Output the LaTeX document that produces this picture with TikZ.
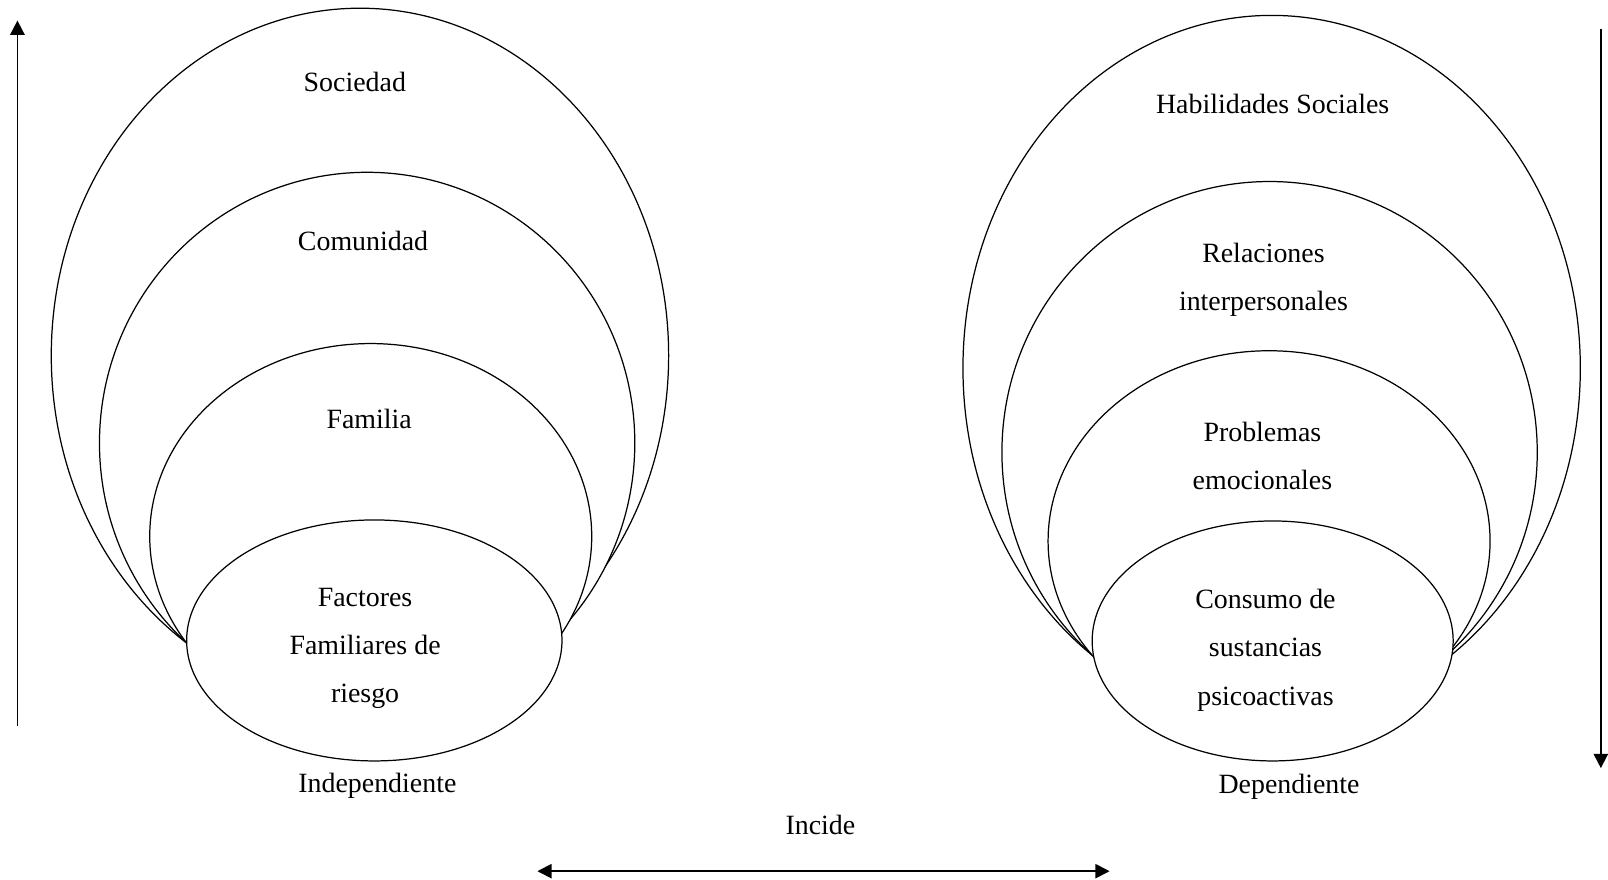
\documentclass[tikz,border=0pt]{standalone}
\usepackage{fontspec}
\setmainfont{Liberation Serif}
\usetikzlibrary{arrows.meta}
\begin{document}
\begin{tikzpicture}[x=0.5pt,y=-0.5pt,
  ring/.style={draw=black, fill=white, line width=0.6pt},
  lbl/.style={font=\fontsize{13.6}{23.5}\selectfont, align=center, inner sep=0pt},
  tipstyle/.style={line width=0.9pt},
  ]
\useasboundingbox (0,0) rectangle (1568,858);
% left group
\draw[ring] (351,346.7) ellipse [x radius=301, y radius=338.7];
\draw[ring] (358,432) ellipse [x radius=261, y radius=264];
\draw[ring] (361.5,523) ellipse [x radius=215.5, y radius=188];
\draw[ring] (365,624.5) ellipse [x radius=183, y radius=117.5];
% right group
\draw[ring] (1240,359) ellipse [x radius=301, y radius=344];
\draw[ring] (1238,441) ellipse [x radius=261, y radius=264];
\draw[ring] (1237.5,527.6) ellipse [x radius=215.5, y radius=185.6];
\draw[ring] (1241,625) ellipse [x radius=176, y radius=117];
% labels
\node[lbl] (soc) at (346,80) {Sociedad};
\node[lbl] (com) at (354,235) {Comunidad};
\node[lbl] (fam) at (360,409) {Familia};
\node[lbl] (fac) at (356,632) {Factores\\Familiares de\\riesgo};
\node[lbl] (ind) at (368,766) {Independiente};
\node[lbl] (hab) at (1241,101) {Habilidades Sociales};
\node[lbl] (rel) at (1232,272.5) {Relaciones\\interpersonales};
\node[lbl] (pro) at (1231,444.5) {Problemas\\emocionales};
\node[lbl] (con) at (1234,634) {Consumo de\\sustancias\\psicoactivas};
\node[lbl] (dep) at (1257,767) {Dependiente};
\node[lbl] (inc) at (800,804) {Incide};
% arrows
\coordinate (la0) at (17,708);
\coordinate (la1) at (17,20);
\coordinate (ra0) at (1561,28);
\coordinate (ra1) at (1561,749);
\coordinate (ba0) at (524,849.5);
\coordinate (ba1) at (1082,849.5);
\draw[tipstyle, -{Triangle[length=7pt,width=7pt]}] (la0) -- (la1);
\draw[tipstyle, -{Triangle[length=7pt,width=7pt]}] (ra0) -- (ra1);
\draw[tipstyle, {Triangle[length=7pt,width=7pt]}-{Triangle[length=7pt,width=7pt]}] (ba0) -- (ba1);
\end{tikzpicture}
\end{document}
